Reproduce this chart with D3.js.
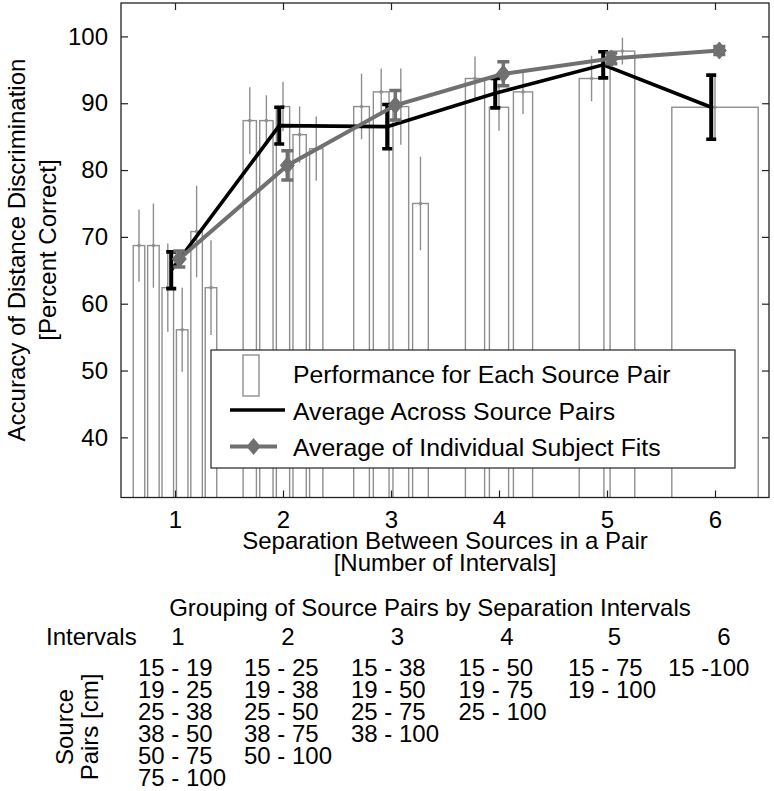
<!DOCTYPE html>
<html>
<head>
<meta charset="utf-8">
<script src="https://cdn.jsdelivr.net/npm/d3@7"></script>
<style>
  html, body { margin: 0; padding: 0; background: #fff; }
  svg { display: block; font-family: "Liberation Sans", Arial, Helvetica, sans-serif; }
</style>
</head>
<body>
<script>
// ---------------- DATA ----------------
const xCats = [1, 2, 3, 4, 5, 6];
const xTickLabels = ["1", "2", "3", "4", "5", "6"];
const yTicks = [40, 50, 60, 70, 80, 90, 100];

// Performance for each source pair (grouped by separation interval)
const pairMeans = [
  [68.7, 68.7, 62.4, 56.1, 70.8, 62.4],
  [87.4, 87.4, 89.5, 85.3, 83.2],
  [89.5, 91.7, 89.5, 75.0],
  [93.7, 89.4, 91.7],
  [93.7, 97.8],
  [89.4]
];
const pairErrs = [
  [5.4, 6.3, 6.6, 6.3, 6.85, 7.1],
  [5.0, 3.8, 3.7, 4.2, 4.8],
  [4.9, 3.5, 5.7, 7.0],
  [3.3, 3.5, 3.3],
  [3.4, 2.0],
  [4.8]
];

// Average across source pairs
const avgPairs = [65.0, 86.65, 86.5, 91.5, 95.75, 89.4];
const avgPairsErr = [2.75, 2.75, 3.3, 2.2, 1.95, 4.8];

// Average of individual subject fits
const avgFits = [66.7, 80.7, 89.7, 94.4, 96.7, 97.9];
const avgFitsErr = [1.2, 2.2, 2.2, 1.8, 0.8, 0.6];

const legendLabels = ["Performance for Each Source Pair", "Average Across Source Pairs", "Average of Individual Subject Fits"];

const tableTitle = "Grouping of Source Pairs by Separation Intervals";
const tableIntervals = ["1", "2", "3", "4", "5", "6"];
const tablePairs = [
  ["15 - 19", "19 - 25", "25 - 38", "38 - 50", "50 - 75", "75 - 100"],
  ["15 - 25", "19 - 38", "25 - 50", "38 - 75", "50 - 100"],
  ["15 - 38", "19 - 50", "25 - 75", "38 - 100"],
  ["15 - 50", "19 - 75", "25 - 100"],
  ["15 - 75", "19 - 100"],
  ["15 -100"]
];

// ---------------- STYLE / LAYOUT ----------------
const W = 774, H = 791;
const FS = 24;
const barEdge = "#8f8f8f";
const grayLine = "#707070";

const svg = d3.select("body").append("svg").attr("width", W).attr("height", H);
svg.append("rect").attr("width", W).attr("height", H).attr("fill", "#fff");

const x = d3.scaleLinear().domain([0.5, 6.5]).range([121, 769]);
const y = d3.scaleLinear().domain([31, 105]).range([497.5, 3]);
const [x0, x1] = x.range();
const [yb, yt] = y.range();

svg.append("clipPath").attr("id", "clip")
  .append("rect").attr("x", x0).attr("y", yt).attr("width", x1 - x0).attr("height", yb - yt);

const plot = svg.append("g").attr("clip-path", "url(#clip)");

// ---- bars ----
const barData = [];
pairMeans.forEach((vals, gi) => {
  const n = vals.length;
  const gw = n === 1 ? 0.8 : Math.min(0.8, n / (n + 1.5));
  const step = gw / n;
  const bw = n === 1 ? 0.8 : step * 0.8;
  vals.forEach((v, j) => {
    barData.push({ cx: xCats[gi] - gw / 2 + (j + 0.5) * step, bw, v, e: pairErrs[gi][j] });
  });
});

plot.selectAll("rect.bar").data(barData).join("rect")
  .attr("class", "bar")
  .attr("x", d => x(d.cx - d.bw / 2))
  .attr("width", d => x(d.cx + d.bw / 2) - x(d.cx - d.bw / 2))
  .attr("y", d => y(d.v))
  .attr("height", d => yb + 5 - y(d.v))
  .attr("fill", "#fff")
  .attr("stroke", barEdge)
  .attr("stroke-width", 1.4);

plot.selectAll("line.berr").data(barData).join("line")
  .attr("class", "berr")
  .attr("x1", d => x(d.cx)).attr("x2", d => x(d.cx))
  .attr("y1", d => y(d.v + d.e)).attr("y2", d => y(d.v - d.e))
  .attr("stroke", barEdge).attr("stroke-width", 1.4);

plot.selectAll("circle.bdot").data(barData).join("circle")
  .attr("class", "bdot")
  .attr("cx", d => x(d.cx)).attr("cy", d => y(d.v))
  .attr("r", 1.8).attr("fill", barEdge);

// ---- black line: average across source pairs ----
const bOff = -0.035, gOff = 0.04;
const blackPts = avgPairs.map((v, i) => ({ x: xCats[i] + bOff, v, e: avgPairsErr[i] }));
plot.append("path").datum(blackPts)
  .attr("d", d3.line().x(d => x(d.x)).y(d => y(d.v)))
  .attr("fill", "none").attr("stroke", "#000").attr("stroke-width", 3.6);
const bErr = plot.append("g");
blackPts.forEach(d => {
  const cx = x(d.x), t = y(d.v + d.e), b = y(d.v - d.e);
  bErr.append("line").attr("x1", cx).attr("x2", cx).attr("y1", t).attr("y2", b)
    .attr("stroke", "#000").attr("stroke-width", 4);
  [t, b].forEach(yy => bErr.append("line").attr("x1", cx - 5).attr("x2", cx + 5).attr("y1", yy).attr("y2", yy)
    .attr("stroke", "#000").attr("stroke-width", 3.6));
});

// ---- gray line: average of individual subject fits ----
const grayPts = avgFits.map((v, i) => ({ x: xCats[i] + gOff, v, e: avgFitsErr[i] }));
plot.append("path").datum(grayPts)
  .attr("d", d3.line().x(d => x(d.x)).y(d => y(d.v)))
  .attr("fill", "none").attr("stroke", grayLine).attr("stroke-width", 4);
const gErr = plot.append("g");
const diamond = (cx, cy, hw, hh) => `M${cx},${cy - hh}L${cx + hw},${cy}L${cx},${cy + hh}L${cx - hw},${cy}Z`;
grayPts.forEach(d => {
  const cx = x(d.x), t = y(d.v + d.e), b = y(d.v - d.e);
  gErr.append("line").attr("x1", cx).attr("x2", cx).attr("y1", t).attr("y2", b)
    .attr("stroke", grayLine).attr("stroke-width", 3.5);
  [t, b].forEach(yy => gErr.append("line").attr("x1", cx - 6).attr("x2", cx + 6).attr("y1", yy).attr("y2", yy)
    .attr("stroke", grayLine).attr("stroke-width", 3.5));
  gErr.append("path").attr("d", diamond(cx, y(d.v), 7, 8.5)).attr("fill", grayLine).attr("stroke", grayLine).attr("stroke-width", 1);
});

// ---- axes ----
const axL = svg.append("g").attr("transform", `translate(${x0},0)`)
  .call(d3.axisLeft(y).tickValues(yTicks).tickSize(-7).tickPadding(13));
const axR = svg.append("g").attr("transform", `translate(${x1},0)`)
  .call(d3.axisRight(y).tickValues(yTicks).tickSize(-7).tickFormat(""));
const axB = svg.append("g").attr("transform", `translate(0,${yb})`)
  .call(d3.axisBottom(x).tickValues(xCats).tickSize(-7).tickPadding(13).tickFormat((d, i) => xTickLabels[i]));
const axT = svg.append("g").attr("transform", `translate(0,${yt})`)
  .call(d3.axisTop(x).tickValues(xCats).tickSize(-7).tickFormat(""));
[axL, axR, axB, axT].forEach(g => {
  g.select(".domain").remove();
  g.selectAll(".tick line").attr("stroke", "#222").attr("stroke-width", 1.2);
  g.selectAll(".tick text").attr("font-size", FS).attr("fill", "#000")
    .attr("font-family", "'Liberation Sans', Arial, sans-serif");
});
svg.append("rect").attr("x", x0).attr("y", yt).attr("width", x1 - x0).attr("height", yb - yt)
  .attr("fill", "none").attr("stroke", "#222").attr("stroke-width", 1.3);

// ---- axis labels ----
const yLab = svg.append("text").attr("transform", "translate(0,250) rotate(-90)")
  .attr("text-anchor", "middle").attr("font-size", FS).attr("fill", "#000");
yLab.append("tspan").attr("x", 0).attr("y", 25).text("Accuracy of Distance Discrimination");
yLab.append("tspan").attr("x", 0).attr("y", 56).text("[Percent Correct]");

svg.append("text").attr("x", (x0 + x1) / 2).attr("y", 549).attr("text-anchor", "middle")
  .attr("font-size", FS).text("Separation Between Sources in a Pair");
svg.append("text").attr("x", (x0 + x1) / 2).attr("y", 571).attr("text-anchor", "middle")
  .attr("font-size", FS).text("[Number of Intervals]");

// ---- legend ----
const lg = svg.append("g");
lg.append("rect").attr("x", 211).attr("y", 350).attr("width", 524).attr("height", 118)
  .attr("fill", "#fff").attr("stroke", "#222").attr("stroke-width", 1.2);
lg.append("rect").attr("x", 243).attr("y", 355).attr("width", 16).attr("height", 41)
  .attr("fill", "#fff").attr("stroke", barEdge).attr("stroke-width", 1.4);
lg.append("line").attr("x1", 230).attr("x2", 285).attr("y1", 410).attr("y2", 410)
  .attr("stroke", "#000").attr("stroke-width", 3.6);
lg.append("line").attr("x1", 230).attr("x2", 277).attr("y1", 446.5).attr("y2", 446.5)
  .attr("stroke", grayLine).attr("stroke-width", 4);
lg.append("path").attr("d", diamond(253.5, 446.5, 7, 8.5)).attr("fill", grayLine);
legendLabels.forEach((t, i) => {
  lg.append("text").attr("x", 293).attr("y", [383, 419.5, 456][i]).attr("font-size", 24.8).text(t);
});

// ---- table below ----
svg.append("text").attr("x", 430).attr("y", 616).attr("text-anchor", "middle").attr("font-size", FS).text(tableTitle);
svg.append("text").attr("x", 46).attr("y", 645).attr("font-size", FS).text("Intervals");
const colCenters = [178, 288, 397.5, 507, 614.5, 724];
const colLefts = [138, 244, 351, 458.5, 568, 668];
tableIntervals.forEach((t, i) => {
  svg.append("text").attr("x", colCenters[i]).attr("y", 645).attr("text-anchor", "middle").attr("font-size", FS).text(t);
});
tablePairs.forEach((col, i) => {
  col.forEach((t, r) => {
    svg.append("text").attr("x", colLefts[i]).attr("y", 676 + r * 22).attr("font-size", FS).text(t);
  });
});
const sp = svg.append("text").attr("transform", "translate(0,727) rotate(-90)")
  .attr("text-anchor", "middle").attr("font-size", FS);
sp.append("tspan").attr("x", 0).attr("y", 73).text("Source");
sp.append("tspan").attr("x", 0).attr("y", 98).text("Pairs [cm]");
</script>
</body>
</html>
